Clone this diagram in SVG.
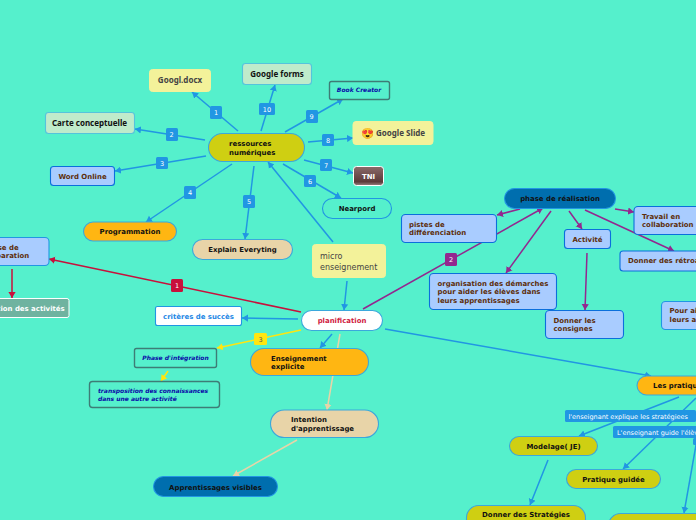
<svg xmlns="http://www.w3.org/2000/svg" width="696" height="520" viewBox="0 0 696 520">
<style>
text{font-family:"DejaVu Sans",sans-serif;font-size:6.95px;font-weight:bold;fill:#111}
.c{text-anchor:middle}
.l{fill:none;stroke-width:1.5}
.b{stroke:#2196E3;marker-end:url(#ab)}
.r{stroke:#C8103C;marker-end:url(#ar)}
.p{stroke:#93278F;marker-end:url(#ap)}
.y{stroke:#FFE60F;marker-end:url(#ay)}
.t{stroke:#E8D4A8;marker-end:url(#at)}
.lb rect{rx:1.5px}
.lb text{font-weight:normal;text-anchor:middle;font-size:6.5px;fill:#fff}
.lbb rect{fill:#2196E3}
.bb{fill:#A9CCFF;stroke:#0B6FDC;stroke-width:1.1}
.bt{fill:#5D2E0B}
.ye{fill:#CFCF12;stroke:#3BA8DC;stroke-width:1.1}
.or{fill:#FFB612;stroke:#3BA8DC;stroke-width:1.1}
.be{fill:#E8D4A8;stroke:#3BA8DC;stroke-width:1.1}
.da{fill:#006EAE;stroke:#2196E3;stroke-width:1.1}
.li{fill:#F3F29A;stroke:#F3F29A}
.gr{fill:#BFEBCB;stroke:#55C3DC;stroke-width:1.1}
.te{fill:#55F0CC;stroke:#3E7C76;stroke-width:1.4}
.it{fill:#0A0AA8;font-style:italic;font-size:6px}
.gt{fill:#444;font-family:"Noto Sans",sans-serif;font-size:8px}
</style>
<defs>
<marker id="ab" markerUnits="userSpaceOnUse" markerWidth="8" markerHeight="8" refX="6" refY="4" orient="auto"><path d="M0,0.4L6,4L0,7.6z" fill="#2196E3"/></marker>
<marker id="ar" markerUnits="userSpaceOnUse" markerWidth="8" markerHeight="8" refX="6" refY="4" orient="auto"><path d="M0,0.4L6,4L0,7.6z" fill="#C8103C"/></marker>
<marker id="ap" markerUnits="userSpaceOnUse" markerWidth="8" markerHeight="8" refX="6" refY="4" orient="auto"><path d="M0,0.4L6,4L0,7.6z" fill="#93278F"/></marker>
<marker id="ay" markerUnits="userSpaceOnUse" markerWidth="8" markerHeight="8" refX="6" refY="4" orient="auto"><path d="M0,0.4L6,4L0,7.6z" fill="#FFE60F"/></marker>
<marker id="at" markerUnits="userSpaceOnUse" markerWidth="8" markerHeight="8" refX="6" refY="4" orient="auto"><path d="M0,0.4L6,4L0,7.6z" fill="#E8D4A8"/></marker>
<linearGradient id="tni" x1="0" y1="0" x2="0" y2="1"><stop offset="0" stop-color="#8A6A6A"/><stop offset="0.8" stop-color="#5C3A3A"/><stop offset="1" stop-color="#9A8080"/></linearGradient>
</defs>
<rect width="696" height="520" fill="#55F0CC"/>
<g id="connectors">
<path class="l b" d="M238,131L192,92"/>
<path class="l b" d="M261,131L275,85"/>
<path class="l b" d="M285,132L343,99"/>
<path class="l b" d="M308,142L353,138"/>
<path class="l b" d="M304,160L353,173"/>
<path class="l b" d="M283,164L341,198"/>
<path class="l b" d="M254,166L245,239"/>
<path class="l b" d="M232,164L146,222"/>
<path class="l b" d="M206,156L115,171"/>
<path class="l b" d="M205,140L135,129"/>
<path class="l b" d="M333,242L268,162"/>
<path class="l b" d="M347,281L344,310"/>
<path class="l r" d="M301,312L49,259"/>
<path class="l r" d="M12,269L12,298"/>
<path class="l b" d="M298,319L242,318"/>
<path class="l y" d="M301,330L217,348"/>
<path class="l y" d="M168,371L161,381"/>
<path class="l b" d="M332,334L320,348"/>
<path class="l t" d="M340,334L327,410"/>
<path class="l t" d="M297,440L233,476"/>
<path class="l p" d="M363,309L543,208"/>
<path class="l b" d="M385,329L651,376"/>
<path class="l p" d="M520,209L497,215"/>
<path class="l p" d="M551,211L506,273"/>
<path class="l p" d="M569,211L582,229"/>
<path class="l p" d="M615,209L634,212"/>
<path class="l p" d="M585,210L674,251"/>
<path class="l p" d="M587,253L585,310"/>
<path class="l b" d="M679,397L579,436"/>
<path class="l b" d="M696,398L623,469"/>
<path class="l b" d="M696,445L684,513"/>
<path class="l b" d="M548,460L530,505"/>
</g>
<g id="n-ressources"><rect class="ye" x="208.500" y="133.500" width="96" height="28" rx="14"/><text x="229" y="146">ressources</text><text x="229" y="155">numériques</text></g>
<g id="n-docx"><rect class="li" x="149.500" y="69.500" width="61" height="22" rx="3"/><text class="gt c" x="180" y="83">Googl.docx</text></g>
<g id="n-forms"><rect class="gr" x="242.500" y="63.500" width="69" height="21" rx="3"/><text class="c" x="277" y="77" style="font-family:'Noto Sans',sans-serif;font-size:8px">Google forms</text></g>
<g id="n-book"><rect class="te" x="329.500" y="81.500" width="60" height="18" rx="2"/><text class="it c" x="359" y="92">Book Creator</text></g>
<g id="n-slide"><rect class="li" x="353" y="121.500" width="80" height="23" rx="3"/><text x="361" y="136.500" style="font-size:10.500px;font-family:'Noto Color Emoji','DejaVu Sans',sans-serif">😍</text><text class="gt" x="376" y="136">Google Slide</text></g>
<g id="n-tni"><rect x="353.500" y="166.500" width="30" height="19" rx="3" fill="url(#tni)" stroke="#fff"/><text class="c" x="368.500" y="178.500" style="fill:#fff">TNI</text></g>
<g id="n-nearpord"><rect x="322.500" y="198.500" width="69" height="20" rx="10" fill="#55F0CC" stroke="#2196E3" stroke-width="1.1"/><text class="c" x="357" y="211">Nearpord</text></g>
<g id="n-carte"><rect class="gr" x="45.500" y="112.500" width="89" height="21" rx="3"/><text class="c" x="89.500" y="126" style="font-family:'Noto Sans',sans-serif;font-size:8px">Carte conceptuelle</text></g>
<g id="n-word"><rect class="bb" x="50.500" y="166.500" width="64" height="19" rx="3"/><text class="bt c" x="82.500" y="179">Word Online</text></g>
<g id="n-prog"><rect class="or" x="83.500" y="222" width="93" height="19" rx="9.500"/><text class="c" x="130" y="234">Programmation</text></g>
<g id="n-explain"><rect class="be" x="192.500" y="239.500" width="100" height="20" rx="10"/><text class="c" x="242.500" y="252">Explain Everyting</text></g>
<g id="n-micro"><rect class="li" x="312.500" y="244.500" width="73" height="33" rx="3"/><text style="fill:#444;font-weight:normal;font-size:8px" x="320" y="259">micro</text><text style="fill:#444;font-weight:normal;font-size:8px" x="320" y="270">enseignement</text></g>
<g id="n-planif"><rect x="301.500" y="310.500" width="81" height="20" rx="10" fill="#fff" stroke="#3BA8DC" stroke-width="1.1"/><text class="c" x="342" y="323" style="fill:#D02040">planification</text></g>
<g id="n-criteres"><rect x="155.500" y="306.500" width="86" height="19" rx="2" fill="#fff" stroke="#2196E3" stroke-width="1.1"/><text class="c" x="198.500" y="319" style="fill:#1E88E5">critères de succès</text></g>
<g id="n-integration"><rect class="te" x="134.500" y="348.500" width="82" height="19" rx="2"/><text class="it c" x="175.500" y="360">Phase d'intégration</text></g>
<g id="n-transposition"><rect class="te" x="89.500" y="381.500" width="130" height="26" rx="3"/><text class="it" x="98" y="392.500">transposition des connaissances</text><text class="it" x="98" y="400.500">dans une autre activité</text></g>
<g id="n-enseignement"><rect class="or" x="250.500" y="348.500" width="118" height="27" rx="13.500"/><text x="271" y="361">Enseignement</text><text x="271" y="369">explicite</text></g>
<g id="n-intention"><rect class="be" x="270.500" y="410" width="108" height="27.500" rx="13.700"/><text x="291" y="422">Intention</text><text x="291" y="431">d'apprentissage</text></g>
<g id="n-visibles"><rect class="da" x="153.500" y="476.500" width="124" height="20" rx="10"/><text class="c" x="215.500" y="489.500">Apprentissages visibles</text></g>
<g id="n-preparation"><rect class="bb" x="-40" y="237.500" width="89" height="28" rx="4" style="stroke:#2196E3"/><text class="bt" x="-17" y="250">Phase de</text><text class="bt" x="-17" y="258">préparation</text></g>
<g id="n-organisation"><rect x="-40" y="298.500" width="109" height="19" rx="2" fill="#6FB3A0" stroke="#fff" stroke-width="1"/><text x="-38" y="311" style="fill:#fff">Organisation des activités</text></g>
<g id="n-realisation"><rect class="da" x="504.500" y="188.500" width="111" height="20" rx="10"/><text class="c" x="560" y="201">phase de réalisation</text></g>
<g id="n-pistes"><rect class="bb" x="401.500" y="214.500" width="95" height="28" rx="4"/><text class="bt" x="409" y="227">pistes de</text><text class="bt" x="409" y="235">différenciation</text></g>
<g id="n-activite"><rect class="bb" x="564.500" y="229.500" width="46" height="19" rx="3"/><text class="bt c" x="587.500" y="242">Activité</text></g>
<g id="n-travail"><rect class="bb" x="634" y="206.500" width="80" height="28" rx="4"/><text class="bt" x="642" y="219">Travail en</text><text class="bt" x="642" y="227">collaboration</text></g>
<g id="n-retro"><rect class="bb" x="620" y="251" width="100" height="20" rx="3"/><text class="bt" x="628" y="263">Donner des rétroactions</text></g>
<g id="n-organisationd"><rect class="bb" x="429.500" y="273.500" width="127" height="36" rx="4"/><text class="bt" x="437.500" y="286">organisation des démarches</text><text class="bt" x="437.500" y="294">pour aider les élèves dans</text><text class="bt" x="437.500" y="303">leurs apprentissages</text></g>
<g id="n-consignes"><rect class="bb" x="545.500" y="310.500" width="78" height="28" rx="4"/><text class="bt" x="553.500" y="323">Donner les</text><text class="bt" x="553.500" y="331">consignes</text></g>
<g id="n-pour"><rect class="bb" x="661.500" y="301.500" width="60" height="28" rx="4" style="stroke:#2196E3"/><text class="bt" x="669.500" y="313">Pour aider</text><text class="bt" x="669.500" y="322">leurs apprentissages</text></g>
<g id="n-pratiques"><rect class="or" x="637" y="376" width="100" height="19" rx="9.500"/><text x="653" y="388">Les pratiques</text></g>
<g id="n-modelage"><rect class="ye" x="509.500" y="436.500" width="88" height="19" rx="9.500"/><text class="c" x="553.500" y="449">Modelage( JE)</text></g>
<g id="n-guidee"><rect class="ye" x="566.500" y="469.500" width="94" height="19" rx="9.500"/><text class="c" x="613.500" y="482">Pratique guidée</text></g>
<g id="n-strategies"><rect class="ye" x="466.500" y="505.500" width="119" height="28" rx="12"/><text class="c" x="526" y="517">Donner des Stratégies</text></g>
<g id="n-bas"><rect class="ye" x="608.500" y="513.500" width="110" height="28" rx="12"/></g>
<g id="labels">
<g class="lb lbb"><rect x="210" y="106" width="12" height="13"/><text x="216" y="115">1</text></g>
<g class="lb lbb"><rect x="166" y="128" width="12" height="13"/><text x="171.500" y="137">2</text></g>
<g class="lb lbb"><rect x="156" y="157" width="12" height="12"/><text x="162" y="166">3</text></g>
<g class="lb lbb"><rect x="184" y="186" width="12" height="13"/><text x="190" y="195">4</text></g>
<g class="lb lbb"><rect x="243" y="195" width="12" height="13"/><text x="249" y="204">5</text></g>
<g class="lb lbb"><rect x="304" y="175" width="12" height="12"/><text x="310" y="184">6</text></g>
<g class="lb lbb"><rect x="320" y="159" width="12" height="12"/><text x="326" y="168">7</text></g>
<g class="lb lbb"><rect x="322" y="134" width="12" height="12"/><text x="328" y="143">8</text></g>
<g class="lb lbb"><rect x="306" y="110" width="12" height="13"/><text x="311.500" y="119">9</text></g>
<g class="lb lbb"><rect x="259" y="103" width="16" height="12"/><text x="267" y="112">10</text></g>
<g class="lb"><rect x="171" y="279" width="12" height="13" fill="#C8103C"/><text x="177" y="288">1</text></g>
<g class="lb"><rect x="445" y="253" width="12" height="13" fill="#93278F"/><text x="451" y="262">2</text></g>
<g class="lb"><rect x="254" y="333" width="13" height="12" fill="#FFE60F"/><text x="260.500" y="342" style="fill:#555">3</text></g>
<g class="lb lbb"><rect x="565" y="410" width="131" height="12"/><text x="568.500" y="418.500" style="text-anchor:start">l'enseignant explique les stratégiees</text></g>
<g class="lb lbb"><rect x="613" y="426" width="90" height="12"/><text x="617" y="434.500" style="text-anchor:start">L'enseignant guide l'élève</text></g>
<g class="lb lbb"><rect x="693" y="438" width="10" height="7"/></g>
</g>
</svg>
